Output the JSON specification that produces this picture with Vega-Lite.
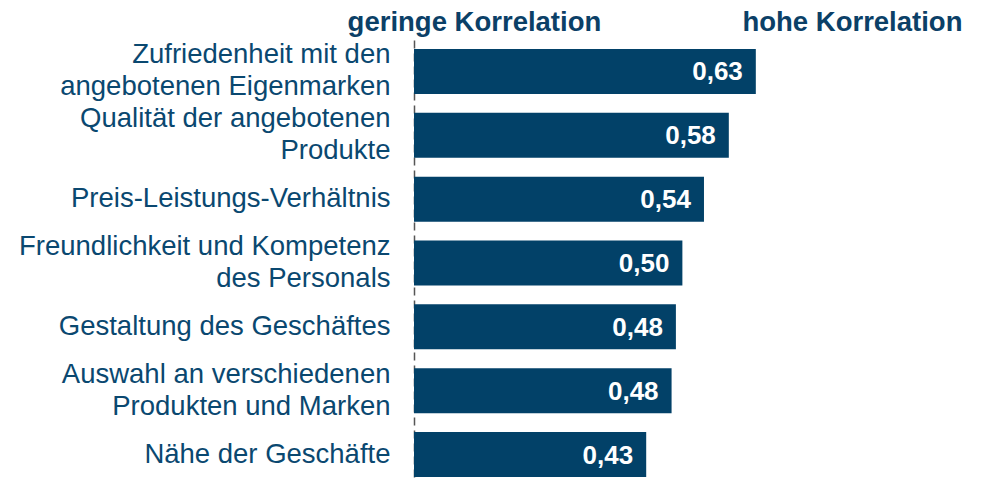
{
  "$schema": "https://vega.github.io/schema/vega-lite/v6.json",
  "autosize": "none",
  "width": 540,
  "height": 438,
  "padding": {"left": 414, "top": 40, "right": 32, "bottom": 0},
  "background": "white",
  "config": {"view": {"stroke": null}, "font": "Liberation Sans"},
  "data": {"values": [
    {"item": "Zufriedenheit mit den|angebotenen Eigenmarken", "value": 0.633, "label": "0,63"},
    {"item": "Qualität der angebotenen|Produkte", "value": 0.583, "label": "0,58"},
    {"item": "Preis-Leistungs-Verhältnis", "value": 0.537, "label": "0,54"},
    {"item": "Freundlichkeit und Kompetenz|des Personals", "value": 0.497, "label": "0,50"},
    {"item": "Gestaltung des Geschäftes", "value": 0.485, "label": "0,48"},
    {"item": "Auswahl an verschiedenen|Produkten und Marken", "value": 0.477, "label": "0,48"},
    {"item": "Nähe der Geschäfte", "value": 0.43, "label": "0,43"}
  ]},
  "encoding": {
    "y": {
      "field": "item", "type": "nominal", "sort": null,
      "scale": {"paddingInner": 0.295, "paddingOuter": 0.078, "align": 0.9},
      "axis": {
        "title": null, "ticks": false,
        "domain": true, "domainColor": "#555555", "domainDash": [8, 5], "domainWidth": 1.5,
        "labelExpr": "split(datum.value, '|')",
        "labelFont": "Liberation Sans", "labelFontSize": 27.5, "labelColor": "#0a4870",
        "labelLineHeight": 32, "labelPadding": 24, "labelLimit": 500,
        "labelAlign": "right", "labelBaseline": "middle",
        "labelOffset": {"condition": {"test": "indexof(datum.value, '|') >= 0", "value": -16}, "value": 0}
      }
    }
  },
  "layer": [
    {
      "mark": {"type": "bar", "color": "#024168"},
      "encoding": {
        "x": {
          "field": "value", "type": "quantitative",
          "scale": {"domain": [0, 1], "nice": false, "zero": true},
          "axis": {
            "orient": "top", "title": null, "grid": false, "ticks": false, "domain": false,
            "values": [0.111, 0.811],
            "labelExpr": "datum.value < 0.5 ? 'geringe Korrelation' : 'hohe Korrelation'",
            "labelFont": "Liberation Sans", "labelFontSize": 27.5, "labelFontWeight": "bold",
            "labelColor": "#0b4067", "labelPadding": 18, "labelBaseline": "middle",
            "labelAlign": "center", "labelOverlap": false, "labelFlush": false, "labelLimit": 500
          }
        }
      }
    },
    {
      "mark": {"type": "text", "align": "right", "baseline": "middle", "dx": -13, "dy": 1,
               "color": "white", "font": "Liberation Sans", "fontSize": 26, "fontWeight": "bold"},
      "encoding": {
        "x": {"field": "value", "type": "quantitative"},
        "text": {"field": "label"}
      }
    }
  ]
}
